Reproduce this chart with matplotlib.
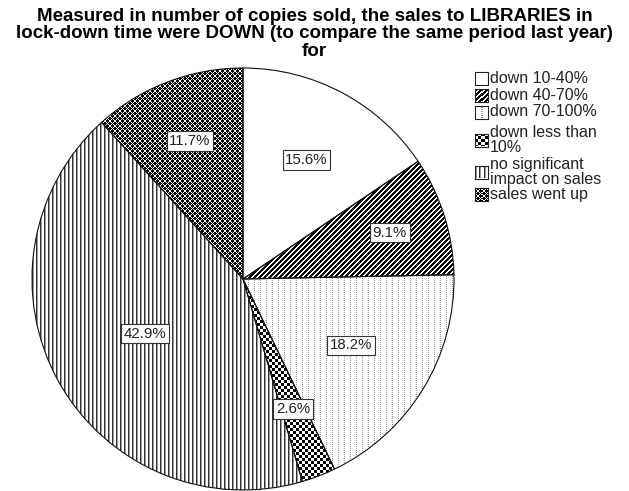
import matplotlib
matplotlib.use("Agg")
import numpy as np
import matplotlib.pyplot as plt

plt.rcParams['font.family'] = ['Liberation Sans', 'DejaVu Sans']

title_lines = ['Measured in number of copies sold, the sales to LIBRARIES in',
               'lock-down time were DOWN (to compare the same period last year)',
               'for']
categories = ['down 10-40%', 'down 40-70%', 'down 70-100%',
              'down less than\n10%', 'no significant\nimpact on sales', 'sales went up']
shares = [15.6, 9.1, 18.2, 2.6, 42.9, 11.7]
pct_labels = ['15.6%', '9.1%', '18.2%', '2.6%', '42.9%', '11.7%']

# fill pattern of each slice, built pixel by pixel (1 = white, 0 = black)
def pattern(kind, n):
    i, j = np.indices((n, n))
    img = np.ones((n, n))
    if kind == 'diag':
        img[(i + j) % 5 < 3] = 0.0
    elif kind == 'dots':
        img[(j % 6 == 0) & (i % 2 == 0)] = 0.6
    elif kind == 'checker':
        img[((i // 3) + (j // 3)) % 2 == 0] = 0.0
    elif kind == 'vlines':
        img[j % 4 == 0] = 0.2
        img[j % 4 == 1] = 0.6
    elif kind == 'cross':
        img[:] = 0.0
        img[((i + j) % 5 == 0) | ((i - j) % 5 == 0)] = 1.0
    return img

kinds = ['plain', 'diag', 'dots', 'checker', 'vlines', 'cross']
label_r = [0.64, 0.73, 0.60, 0.66, 0.53, 0.70]

W, H = 629, 491
fig = plt.figure(figsize=(W / 100, H / 100), dpi=100)
for line, y in zip(title_lines, [14.5, 32, 49.5]):
    fig.text(0.5, (H - y) / H, line, ha='center', va='center_baseline',
             fontsize=13.5, fontweight='bold')

# pie: centre ~ (243, 279) px, radius ~211 px
ax = fig.add_axes([32 / W, 1 / H, 422 / W, 422 / H])
wedges, _ = ax.pie(shares, startangle=90, counterclock=False, radius=1,
                   wedgeprops=dict(edgecolor='#111111', linewidth=0.8, facecolor='none'))
for w, k in zip(wedges, kinds):
    im = ax.imshow(pattern(k, 422), cmap='gray', vmin=0, vmax=1, extent=(-1, 1, -1, 1),
                   interpolation='nearest', zorder=0.5)
    im.set_clip_path(w)
    w.set_zorder(1)

total = sum(shares)
start = 0
for s, txt, r in zip(shares, pct_labels, label_r):
    mid = np.deg2rad((start + s / 2) / total * 360)
    start += s
    ax.text(r * np.sin(mid), r * np.cos(mid), txt, ha='center', va='center',
            fontsize=10.8, color='#222222', zorder=3,
            bbox=dict(boxstyle='square,pad=0.18', fc='white', ec='#333333', lw=0.8))
ax.set_xlim(-1, 1)
ax.set_ylim(-1, 1)
ax.set_aspect('equal')
ax.axis('off')

# legend built by hand: swatch + text, centres in px from top
row_y = [78.5, 95.5, 112, 140, 172, 194.5]
for cat, k, y in zip(categories, kinds, row_y):
    sw = fig.add_axes([475 / W, (H - y - 6.5) / H, 13 / W, 13 / H])
    sw.imshow(pattern(k, 13), cmap='gray', vmin=0, vmax=1, interpolation='nearest',
              aspect='auto')
    sw.set_xticks([])
    sw.set_yticks([])
    for sp in sw.spines.values():
        sp.set_linewidth(0.8)
        sp.set_color('#222222')
    fig.text(490 / W, (H - y) / H, cat, ha='left', va='center', fontsize=11.5,
             color='#222222', linespacing=1.0)

fig.savefig('out.png', dpi=100)
